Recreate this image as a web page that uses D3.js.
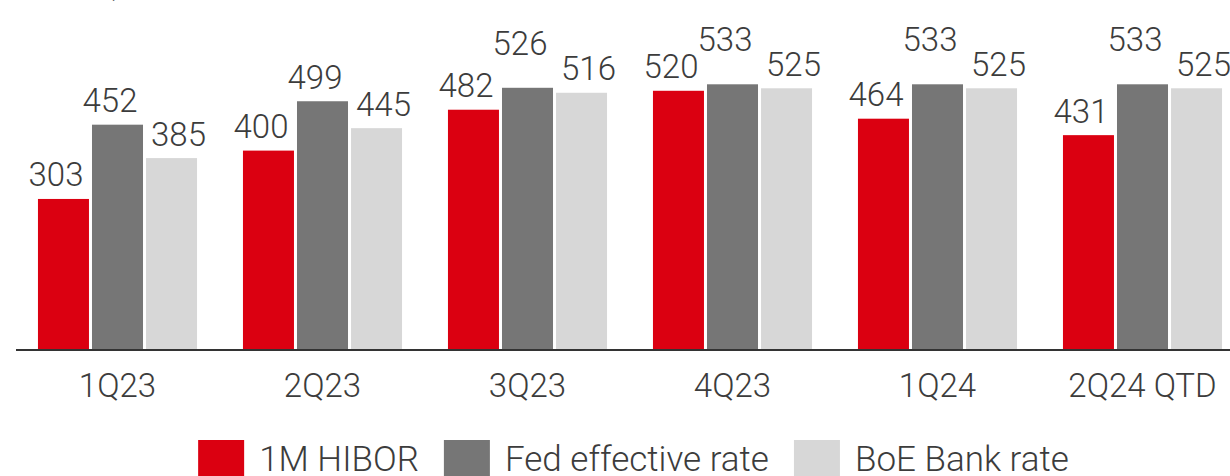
<!DOCTYPE html>
<meta charset="utf-8">
<style>
  body { margin: 0; background: #fff; }
  text { font-family: Roboto, "Liberation Sans", sans-serif; font-weight: 300; fill: #3c3c3c; }
  .axis-line { stroke: #333; stroke-width: 2px; }
</style>
<svg width="1230" height="476"></svg>
<script src="https://d3js.org/d3.v7.min.js"></script>
<script>
  var quarters = ["1Q23", "2Q23", "3Q23", "4Q23", "1Q24", "2Q24 QTD"];
  var seriesNames = ["1M HIBOR", "Fed effective rate", "BoE Bank rate"];
  var hibor = [303, 400, 482, 520, 464, 431];
  var fedRate = [452, 499, 526, 533, 533, 533];
  var boeRate = [385, 445, 516, 525, 525, 525];
  var colors = ["#db0011", "#767676", "#d7d7d7"];

  var svg = d3.select("svg"),
    width = +svg.attr("width"),
    height = +svg.attr("height");

  var baseY = 350;

  var rows = quarters.map(function(q, i) {
    return { q: q, values: [hibor[i], fedRate[i], boeRate[i]] };
  });

  var x0 = d3.scaleBand()
    .domain(quarters)
    .range([15, 1245])
    .paddingInner(0.224)
    .paddingOuter(0.112);

  var x1 = d3.scaleBand()
    .domain(d3.range(seriesNames.length))
    .range([0, x0.bandwidth()])
    .paddingInner(0.056);

  var y = d3.scaleLinear()
    .domain([0, 533])
    .range([baseY, 84.3]);

  // caption sits almost entirely above the visible area
  svg.append("text")
    .attr("x", 16)
    .attr("y", -4)
    .style("font-size", "22px")
    .style("fill", "#666")
    .text("Rates in bps");

  var groups = svg.append("g")
    .selectAll("g")
    .data(rows)
    .enter().append("g")
    .attr("transform", function(d) { return "translate(" + x0(d.q) + ",0)"; });

  groups.selectAll("rect")
    .data(function(d) { return d.values; })
    .enter().append("rect")
    .attr("x", function(d, i) { return x1(i); })
    .attr("width", x1.bandwidth())
    .attr("y", function(d) { return y(d); })
    .attr("height", function(d) { return baseY - y(d); })
    .attr("fill", function(d, i) { return colors[i]; });

  // value labels, middle one pushed up when it would clash with a neighbour
  var textH = 24;
  groups.each(function(d) {
    var base = d.values.map(function(v) { return y(v) - 12.5; });
    var mid = base[1];
    var clash = [0, 2].filter(function(k) { return Math.abs(base[k] - mid) < textH + 1; });
    if (clash.length) {
      base[1] = d3.min(clash, function(k) { return base[k]; }) - 25;
    }
    d3.select(this).selectAll(".lbl")
      .data(d.values)
      .enter().append("text")
      .attr("class", "lbl")
      .style("font-size", "33px")
      .attr("text-anchor", function(v, i) { return i < 2 ? "end" : "start"; })
      .attr("x", function(v, i) {
        return i < 2 ? x1(i) + x1.bandwidth() - 5.5 : x1(i) + 5;
      })
      .attr("y", function(v, i) { return base[i]; })
      .text(function(v) { return v; });
  });

  svg.append("line")
    .attr("class", "axis-line")
    .attr("x1", 16)
    .attr("x2", width)
    .attr("y1", baseY)
    .attr("y2", baseY);

  svg.append("g")
    .selectAll("text")
    .data(quarters)
    .enter().append("text")
    .attr("x", function(d) { return x0(d) + x0.bandwidth() / 2; })
    .attr("y", 396.5)
    .attr("text-anchor", "middle")
    .style("font-size", "33px")
    .text(function(d) { return d; });

  // legend
  var legend = svg.append("g");
  var lx = 0;
  seriesNames.forEach(function(name, i) {
    var item = legend.append("g").attr("transform", "translate(" + lx + ",0)");
    item.append("rect")
      .attr("x", 0)
      .attr("y", 440)
      .attr("width", 46)
      .attr("height", 36)
      .attr("fill", colors[i]);
    var t = item.append("text")
      .attr("x", 61)
      .attr("y", 470.5)
      .style("font-size", "35px")
      .text(name);
    lx += 61 + t.node().getComputedTextLength() + 25;
  });
  lx -= 25;
  legend.attr("transform", "translate(" + (633.5 - lx / 2) + ",0)");
</script>
